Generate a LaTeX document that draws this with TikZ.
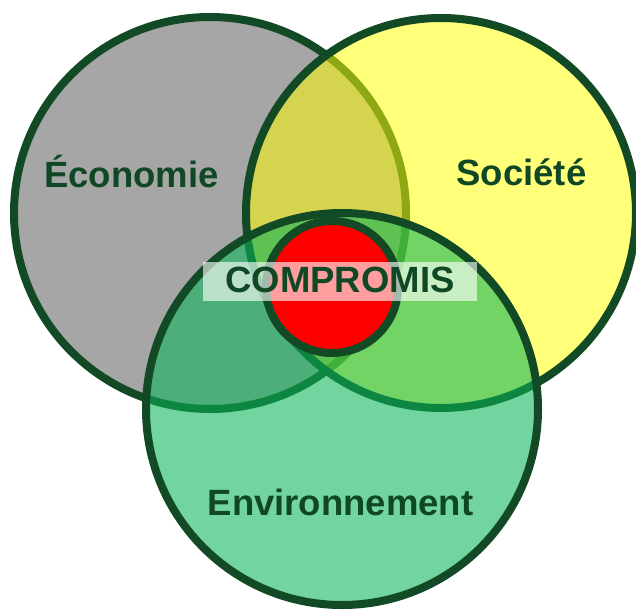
\documentclass[tikz,border=0pt]{standalone}
\usepackage{fontspec}
\setmainfont{Liberation Sans}
\definecolor{dk}{RGB}{18,74,38}
\definecolor{txt}{RGB}{16,72,38}
\definecolor{grayf}{RGB}{166,166,166}
\definecolor{yel}{RGB}{255,255,0}
\definecolor{grn}{RGB}{9,180,86}
\definecolor{redf}{RGB}{255,0,0}
\begin{document}
\begin{tikzpicture}[x=1pt,y=-1pt,
  ring/.style={line width=8pt, draw=dk},
  lbl/.style={font=\bfseries\fontsize{36.5}{40}\selectfont, text=txt, anchor=base, inner sep=0pt}]
\useasboundingbox[fill=white] (0,0) rectangle (636,610);
% Economie
\draw[ring, fill=grayf] (210,213) circle[radius=196];
% Societe
\draw[ring, fill=yel, fill opacity=0.52] (441,213) circle[radius=195];
% Environnement
\draw[ring, fill=grn, fill opacity=0.573] (342,409) circle[radius=196];
% Compromis
\draw[ring, fill=redf] (332,287) circle[radius=66];
\fill[white, opacity=0.62] (203,262) rectangle (477,301);
\node[lbl] (eco) at (131.5,187) {Économie};
\node[lbl] (soc) at (521.5,185) {Société};
\node[lbl] (env) at (340.5,515) {Environnement};
\node[lbl] (comp) at (340,292) {COMPROMIS};
\end{tikzpicture}
\end{document}
